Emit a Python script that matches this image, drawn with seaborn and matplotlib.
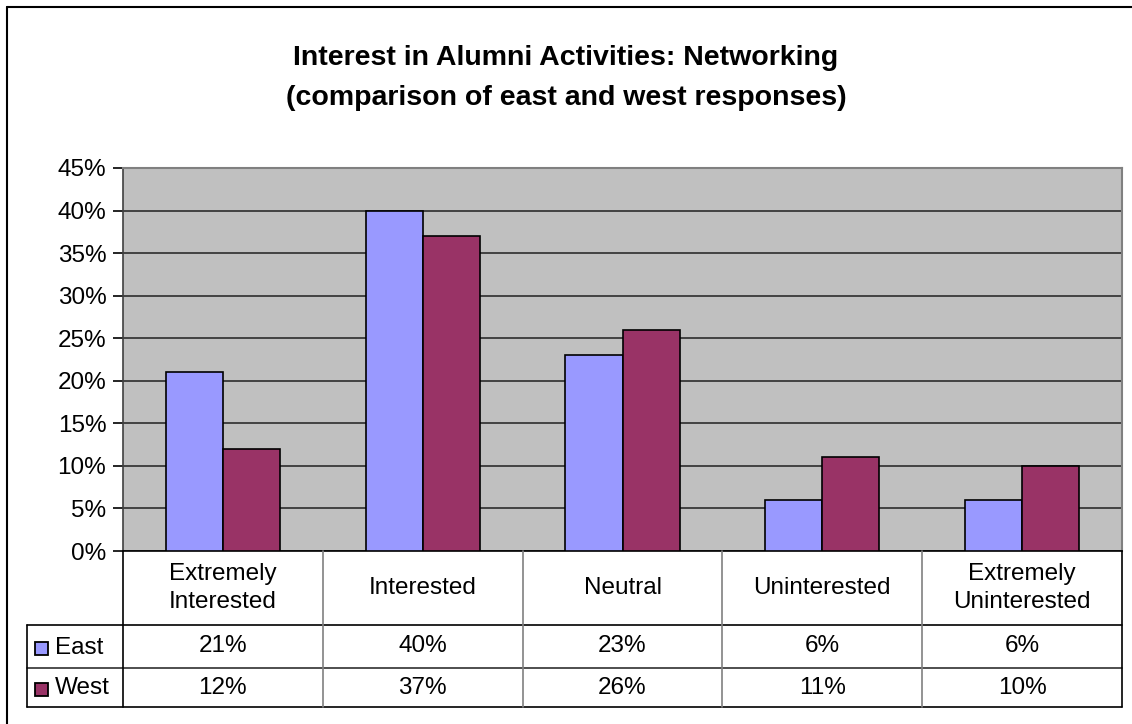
import numpy as np
import pandas as pd
import matplotlib
matplotlib.use("Agg")
import matplotlib.pyplot as plt
import matplotlib.transforms as mtransforms
from matplotlib.lines import Line2D
from matplotlib.patches import Rectangle
import seaborn as sns

# data
categories = ["Extremely\nInterested", "Interested", "Neutral", "Uninterested", "Extremely\nUninterested"]
east = [21, 40, 23, 6, 6]
west = [12, 37, 26, 11, 10]
series = ["East", "West"]
colors = {"East": "#9999FF", "West": "#993366"}
yticks = [0, 5, 10, 15, 20, 25, 30, 35, 40, 45]

sns.set_theme(style="white")
plt.rcParams["font.family"] = ["Liberation Sans", "DejaVu Sans"]
plt.rcParams["text.color"] = "black"
plt.rcParams["ytick.color"] = "black"
plt.rcParams["ytick.labelcolor"] = "black"

W, H = 1132, 724
FS = 17.5
fig = plt.figure(figsize=(W / 100, H / 100), dpi=100)


def fx(px):
    return px / W


def fy(py):
    return 1 - py / H


# plot area in pixels
left, right, top, bottom = 123, 1122, 168, 551
ax = fig.add_axes([fx(left), fy(bottom), fx(right - left), (bottom - top) / H])
ax.set_facecolor("#C0C0C0")

df = pd.DataFrame({
    "Category": categories * 2,
    "Region": ["East"] * len(categories) + ["West"] * len(categories),
    "Value": east + west,
})
sns.barplot(data=df, x="Category", y="Value", hue="Region", order=categories,
            hue_order=series, palette=colors, width=0.571, gap=0,
            edgecolor="black", linewidth=1.2, saturation=1, legend=False, ax=ax, zorder=3)

ax.set_xlim(-0.5, len(categories) - 0.5)
ax.set_ylim(0, 45)
ax.set_yticks(yticks)
ax.set_yticklabels([f"{t}%" for t in yticks], fontsize=FS)
ax.yaxis.grid(True, color="#202020", linewidth=1.1)
ax.set_axisbelow(True)
ax.tick_params(axis="y", direction="out", length=7, width=1.2, color="black", pad=5, left=True)
ax.set_xticks([])
ax.set_xlabel("")
ax.set_ylabel("")
for s in ["top", "right"]:
    ax.spines[s].set_color("#808080")
    ax.spines[s].set_linewidth(1.5)
ax.spines["left"].set_color("#404040")
ax.spines["bottom"].set_color("black")
ax.spines["left"].set_linewidth(1.2)
ax.spines["bottom"].set_linewidth(1.2)

fig.suptitle("Interest in Alumni Activities: Networking\n(comparison of east and west responses)",
             x=0.5, y=fy(45), fontsize=20.5, fontweight="bold", linespacing=1.7, va="top",
             color="black")

# data table under the axis
row_cat, row_east, row_west = 625, 668, 707
legend_left = 27
blend = mtransforms.blended_transform_factory(ax.transData, fig.transFigure)

def hline(x0, x1, y, color="black"):
    fig.add_artist(Line2D([fx(x0), fx(x1)], [fy(y), fy(y)], color=color, linewidth=1.2,
                          transform=fig.transFigure))

def vline(x, y0, y1, color="black"):
    fig.add_artist(Line2D([fx(x), fx(x)], [fy(y0), fy(y1)], color=color, linewidth=1.2,
                          transform=fig.transFigure))

hline(legend_left, right, row_cat)
hline(legend_left, right, row_east, "#303030")
hline(legend_left, right, row_west)
vline(legend_left, row_cat, row_west)
vline(left, bottom, row_west)
vline(right, bottom, row_west)
for i in range(1, len(categories)):
    xb = left + (right - left) * i / len(categories)
    vline(xb, bottom, row_west, "#808080")

for i, cat in enumerate(categories):
    fig.text(i, fy((bottom + row_cat) / 2), cat, transform=blend, ha="center", va="center",
             fontsize=FS, linespacing=1.3)
    fig.text(i, fy((row_cat + row_east) / 2), f"{east[i]}%", transform=blend, ha="center",
             va="center", fontsize=FS)
    fig.text(i, fy((row_east + row_west) / 2), f"{west[i]}%", transform=blend, ha="center",
             va="center", fontsize=FS)

for name, y0, y1 in [("East", row_cat, row_east), ("West", row_east, row_west)]:
    yc = (y0 + y1) / 2 + 2
    fig.add_artist(Rectangle((fx(35), fy(yc + 6.5)), fx(13), 13 / H, facecolor=colors[name],
                             edgecolor="black", linewidth=1.3, transform=fig.transFigure))
    fig.text(fx(55), fy(yc - 1), name, ha="left", va="center", fontsize=FS)

# outer chart border (top and left visible)
fig.add_artist(Line2D([fx(7), 1.01], [fy(7), fy(7)], color="black", linewidth=1.5,
                      transform=fig.transFigure))
fig.add_artist(Line2D([fx(7), fx(7)], [fy(7), -0.01], color="black", linewidth=1.5,
                      transform=fig.transFigure))

fig.savefig("out.png", dpi=100, facecolor="white")
